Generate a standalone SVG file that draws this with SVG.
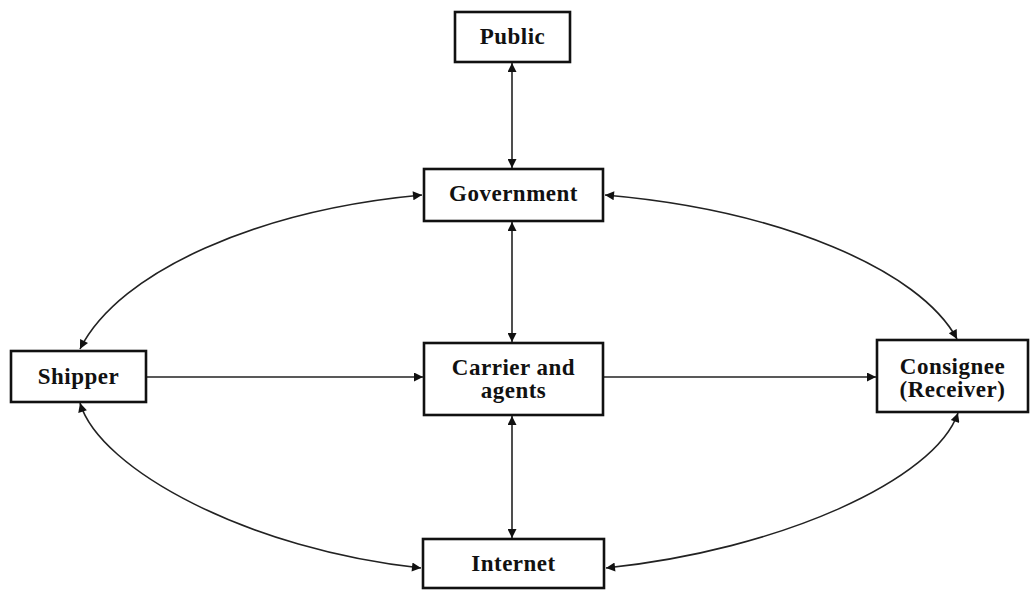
<svg xmlns="http://www.w3.org/2000/svg" width="1032" height="591" viewBox="0 0 1032 591">
<defs>
<style>
.box{fill:#fff;stroke:#111;stroke-width:2.6}
.lbl{font-family:"Liberation Serif","Times New Roman",serif;font-weight:bold;font-size:23px;letter-spacing:0.5px;fill:#111;text-anchor:middle}
.con{fill:none;stroke:#222;stroke-width:1.6}
</style>
<marker id="ah" viewBox="0 0 10 10" refX="10" refY="5" markerWidth="12" markerHeight="9" markerUnits="userSpaceOnUse" orient="auto-start-reverse">
<path d="M0,0 L10,5 L0,10 z" fill="#111"/>
</marker>
</defs>
<rect width="1032" height="591" fill="#fff"/>
<g id="connectors">
<line class="con" x1="512" y1="63" x2="512" y2="168" marker-start="url(#ah)" marker-end="url(#ah)"/>
<line class="con" x1="512" y1="222" x2="512" y2="342" marker-start="url(#ah)" marker-end="url(#ah)"/>
<line class="con" x1="512" y1="416" x2="512" y2="538" marker-start="url(#ah)" marker-end="url(#ah)"/>
<line class="con" x1="147" y1="377" x2="423" y2="377" marker-end="url(#ah)"/>
<line class="con" x1="604" y1="377" x2="876" y2="377" marker-end="url(#ah)"/>
<path class="con" d="M422,195 C260,210 120,270 80,349" marker-start="url(#ah)" marker-end="url(#ah)"/>
<path class="con" d="M605,195 C780,210 920,270 957,339" marker-start="url(#ah)" marker-end="url(#ah)"/>
<path class="con" d="M80,403 C100,470 250,550 421,568" marker-start="url(#ah)" marker-end="url(#ah)"/>
<path class="con" d="M958,413 C935,480 780,550 606,568" marker-start="url(#ah)" marker-end="url(#ah)"/>
</g>
<g id="public"><rect class="box" x="455" y="12" width="115" height="50"/><text class="lbl" x="512.5" y="44">Public</text></g>
<g id="government"><rect class="box" x="424" y="169" width="179" height="52"/><text class="lbl" x="513.5" y="201">Government</text></g>
<g id="shipper"><rect class="box" x="11" y="351" width="135" height="51"/><text class="lbl" x="78.5" y="384">Shipper</text></g>
<g id="carrier"><rect class="box" x="424" y="343" width="179" height="72"/><text class="lbl" x="513.5" y="375">Carrier and</text><text class="lbl" x="513.5" y="398">agents</text></g>
<g id="consignee"><rect class="box" x="877" y="340" width="151" height="72"/><text class="lbl" x="952.5" y="374">Consignee</text><text class="lbl" x="952.5" y="397">(Receiver)</text></g>
<g id="internet"><rect class="box" x="423" y="539" width="181" height="49"/><text class="lbl" x="513.5" y="571">Internet</text></g>
</svg>
